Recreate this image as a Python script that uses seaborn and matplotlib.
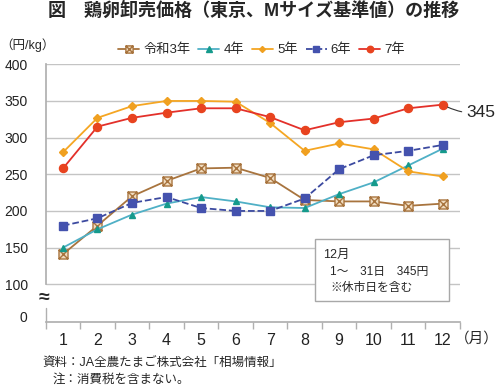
import matplotlib
matplotlib.use("Agg")
import matplotlib.pyplot as plt
from matplotlib.path import Path
from matplotlib.patches import Rectangle
import seaborn as sns
import pandas as pd

months = list(range(1, 13))
month_labels = [str(m) for m in months]

r3 = [141, 180, 220, 241, 258, 259, 245, 215, 213, 213, 207, 210]
r4 = [150, 175, 195, 210, 219, 213, 205, 204, 223, 239, 262, 285]
r5 = [280, 327, 343, 350, 350, 349, 320, 282, 292, 284, 254, 247]
r6 = [180, 190, 211, 219, 204, 200, 200, 217, 257, 276, 282, 290]
r7 = [258, 315, 327, 334, 340, 340, 328, 310, 321, 326, 340, 345]

names = ["令和3年", "4年", "5年", "6年", "7年"]
values = [r3, r4, r5, r6, r7]

df = pd.DataFrame({
    "month": months * len(names),
    "price": sum(values, []),
    "year": sum([[n] * 12 for n in names], []),
})

sns.set_theme(style="white")
plt.rcParams["font.family"] = ["Liberation Sans", "Noto Sans CJK JP"]

# square with an X inside
box_x = Path(
    [(-1, -1), (1, -1), (1, 1), (-1, 1), (-1, -1), (-1, -1), (1, 1), (-1, 1), (1, -1)],
    [Path.MOVETO, Path.LINETO, Path.LINETO, Path.LINETO, Path.CLOSEPOLY,
     Path.MOVETO, Path.LINETO, Path.MOVETO, Path.LINETO],
)

styles = {
    "令和3年": dict(color="#a8743e", marker=box_x, ms=6.5, mfc="#f0dcc0", mec="#a8743e", ls="-"),
    "4年": dict(color="#4fb0c6", marker="^", ms=5, mfc="#159a8c", mec="#159a8c", ls="-"),
    "5年": dict(color="#f5a623", marker="D", ms=3.8, mfc="#f0a020", mec="#f0a020", ls="-"),
    "6年": dict(color="#3c4aa0", marker="s", ms=5.5, mfc="#4452ae", mec="#4452ae", ls="--"),
    "7年": dict(color="#e3302a", marker="o", ms=5.8, mfc="#e8431f", mec="#e8431f", ls="-"),
}

fig = plt.figure(figsize=(5, 3.88), dpi=100)
ax = fig.add_axes([0.0914, 0.1709, 0.8286, 0.6634])

for n in names:
    s = styles[n]
    sns.lineplot(data=df[df.year == n], x="month", y="price", ax=ax,
                 color=s["color"], marker=s["marker"], markersize=s["ms"],
                 markerfacecolor=s["mfc"], markeredgecolor=s["mec"],
                 markeredgewidth=1, linestyle=s["ls"], linewidth=1.3,
                 label=n, legend=False)

ax.set_xlim(0.5, 12.5)
ax.set_ylim(49, 400)
ax.set_xticks(months)
ax.set_xticklabels(month_labels, fontsize=11.5)
ax.set_xticks([m + 0.5 for m in range(0, 13)], minor=True)
ax.tick_params(axis="x", which="major", length=0, pad=8, colors="#222222")
ax.tick_params(axis="x", which="minor", length=5, width=1, color="#b0b0b0", direction="out")
ax.tick_params(axis="x", which="both", bottom=True)

ax.set_yticks([56, 100, 150, 200, 250, 300, 350, 400])
ax.set_yticklabels(["0", "100", "150", "200", "250", "300", "350", "400"], fontsize=10)
ax.tick_params(axis="y", length=0, pad=13, colors="#222222")
ax.grid(axis="y", color="#c4c4c4", linewidth=1)
ax.yaxis.get_gridlines()[0].set_visible(False)
ax.set_xlabel("")
ax.set_ylabel("")

for sp in ["top", "right"]:
    ax.spines[sp].set_visible(False)
ax.spines["bottom"].set_color("#b0b0b0")
ax.spines["left"].set_color("#b0b0b0")
ax.spines["left"].set_bounds(100, 400)
ax.axvline(0.5, ymin=0, ymax=0.053, color="#b0b0b0", linewidth=1, clip_on=False)
ax.set_axisbelow(True)

# 12月 note box
ax.add_patch(Rectangle((0.650, 0.080), 0.323, 0.241, transform=ax.transAxes,
                       facecolor="white", edgecolor="#a8a8a8", linewidth=1, zorder=3))
ax.text(0.669, 0.259, "12月", transform=ax.transAxes, fontsize=9, va="center", zorder=4)
ax.text(0.686, 0.193, "1～　31日　345円", transform=ax.transAxes, fontsize=8.5, va="center", zorder=4)
ax.text(0.686, 0.131, "※休市日を含む", transform=ax.transAxes, fontsize=8.5, va="center", zorder=4)

ax.annotate(str(r7[-1]), xy=(12, r7[-1]), xytext=(17, -6), textcoords="offset points",
            fontsize=12.5, va="center", ha="left", annotation_clip=False,
            arrowprops=dict(arrowstyle="-", color="#333333", lw=0.8,
                            connectionstyle="arc3,rad=-0.15", shrinkA=1, shrinkB=4))

handles, labels = ax.get_legend_handles_labels()
fig.legend(handles, labels, loc="center", bbox_to_anchor=(0.523, 0.871), ncol=5,
           frameon=False, fontsize=9.5, handlelength=1.6, handletextpad=0.3,
           columnspacing=0.6, markerscale=0.8)

fig.text(0.508, 1 - 11 / 388, "図　鶏卵卸売価格（東京、Mサイズ基準値）の推移",
         ha="center", va="center", fontsize=13, fontweight="bold")
fig.text(0.0, 1 - 45 / 388, "（円/kg）", ha="left", va="center", fontsize=9)
fig.text(44 / 500, 1 - 298 / 388, "≈", ha="center", va="center", fontsize=14, fontweight="bold")
fig.text(0.998, 1 - 339 / 388, "（月）", ha="right", va="center", fontsize=10.5)
fig.text(42 / 500, 1 - 363 / 388, "資料：JA全農たまご株式会社「相場情報」", ha="left", va="center", fontsize=9)
fig.text(53 / 500, 1 - 380 / 388, "注：消費税を含まない。", ha="left", va="center", fontsize=9)

fig.savefig("out.png", dpi=100)
